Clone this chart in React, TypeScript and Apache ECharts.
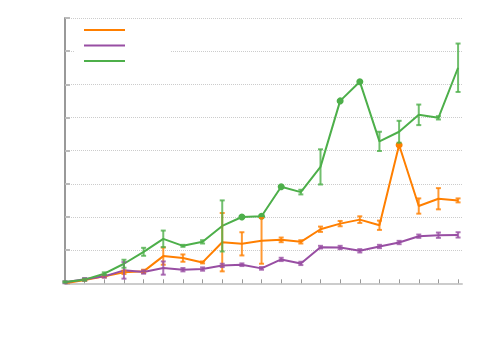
import React, { useEffect, useRef } from 'react';
import * as echarts from 'echarts';

const steps = [0, 1, 2, 3, 4, 5, 6, 7, 8, 9, 10, 11, 12, 13, 14, 15, 16, 17, 18, 19, 20];
const seriesNames = ['Series A', 'Series B', 'Series C'];
const colors = ['#ff7f00', '#984ea3', '#4daf4a'];

const orangeValues = [0.0, 0.1, 0.21, 0.33, 0.36, 0.82, 0.76, 0.63, 1.24, 1.19, 1.28, 1.31, 1.25, 1.63, 1.8, 1.92, 1.75, 4.17, 2.33, 2.55, 2.5];
const orangeErrors = [0, 0.02, 0.03, 0.05, 0.05, 0.26, 0.11, 0.03, 0.88, 0.35, 0.69, 0.07, 0.05, 0.08, 0.08, 0.1, 0.14, 0, 0.23, 0.32, 0.06];
const orangeCircles = [17];

const purpleValues = [0.03, 0.12, 0.21, 0.39, 0.34, 0.46, 0.41, 0.43, 0.54, 0.56, 0.45, 0.72, 0.6, 1.09, 1.08, 0.98, 1.11, 1.23, 1.42, 1.45, 1.46];
const purpleErrors = [0.03, 0.04, 0.04, 0.25, 0.05, 0.2, 0.05, 0.05, 0.05, 0.04, 0.04, 0.05, 0.05, 0.04, 0.05, 0.05, 0.05, 0.05, 0.05, 0.08, 0.08];
const purpleCircles: number[] = [];

const greenValues = [0.04, 0.11, 0.29, 0.59, 0.95, 1.34, 1.13, 1.25, 1.73, 2.0, 2.02, 2.91, 2.75, 3.51, 5.5, 6.08, 4.28, 4.57, 5.08, 4.99, 6.5];
const greenErrors = [0.02, 0.03, 0.04, 0.12, 0.12, 0.25, 0.03, 0.05, 0.77, 0, 0, 0, 0.07, 0.53, 0, 0, 0.29, 0.33, 0.31, 0.05, 0.73];
const greenCircles = [9, 10, 11, 14, 15];

function lineSeries(name: string, values: number[], circles: number[], color: string, z: number) {
  return {
    type: 'line',
    name,
    symbol: 'none',
    z,
    lineStyle: { width: 2, color },
    itemStyle: { color },
    data: steps.map((x, i) =>
      circles.indexOf(i) >= 0
        ? { value: [x, values[i]], symbol: 'circle', symbolSize: 7 }
        : { value: [x, values[i]] }
    ),
  };
}

function errorSeries(name: string, values: number[], errs: number[], color: string, z: number) {
  return {
    type: 'custom',
    name: name + ' error',
    z,
    encode: { x: 0, y: [1, 2] },
    data: steps.map((x, i) => [x, values[i] - errs[i], values[i] + errs[i], errs[i]]),
    renderItem: (_params: any, api: any) => {
      const err = api.value(3);
      if (!err) return { type: 'group', children: [] };
      const x = api.value(0);
      const lo = api.coord([x, api.value(1)]);
      const hi = api.coord([x, api.value(2)]);
      const w = 2.5;
      const style = { stroke: color, lineWidth: 2, opacity: 0.8 };
      return {
        type: 'group',
        children: [
          { type: 'line', shape: { x1: lo[0], y1: lo[1], x2: hi[0], y2: hi[1] }, style },
          { type: 'line', shape: { x1: lo[0] - w, y1: lo[1], x2: lo[0] + w, y2: lo[1] }, style },
          { type: 'line', shape: { x1: hi[0] - w, y1: hi[1], x2: hi[0] + w, y2: hi[1] }, style },
        ],
      };
    },
  };
}

export default function App() {
  const ref = useRef<HTMLDivElement>(null);
  useEffect(() => {
    document.body.style.margin = '0';
    if (!ref.current) return;
    const chart = echarts.init(ref.current, null, { renderer: 'svg' });
    chart.setOption({
      animation: false,
      backgroundColor: '#fff',
      grid: { left: 65, right: 38, top: 18, bottom: 66.7 },
      legend: {
        orient: 'vertical',
        left: 75,
        top: 20,
        padding: [9, 41, 13, 9],
        backgroundColor: '#fff',
        icon: 'rect',
        itemWidth: 41,
        itemHeight: 2,
        itemGap: 13.5,
        formatter: () => '',
        textStyle: { fontSize: 10, lineHeight: 10 },
        selectedMode: false,
        data: seriesNames,
        z: 10,
      },
      xAxis: {
        type: 'value',
        min: 0,
        max: 20.2,
        interval: 1,
        axisLabel: { show: false },
        axisLine: { show: true, lineStyle: { color: '#ccc', width: 2 } },
        axisTick: { show: true, inside: true, length: 4, lineStyle: { color: '#999' }, customValues: steps },
        splitLine: { show: false },
      },
      yAxis: {
        type: 'value',
        min: 0,
        max: 8,
        interval: 1,
        axisLabel: { show: false },
        axisLine: { show: true, lineStyle: { color: '#999', width: 2 } },
        axisTick: { show: true, inside: true, length: 5, lineStyle: { color: '#bbb', width: 2 } },
        splitLine: { show: true, lineStyle: { type: 'dotted', color: '#ccc', width: 1 } },
      },
      series: [
        lineSeries(seriesNames[0], orangeValues, orangeCircles, colors[0], 2),
        lineSeries(seriesNames[1], purpleValues, purpleCircles, colors[1], 2),
        lineSeries(seriesNames[2], greenValues, greenCircles, colors[2], 2),
        errorSeries(seriesNames[0], orangeValues, orangeErrors, colors[0], 3),
        errorSeries(seriesNames[1], purpleValues, purpleErrors, colors[1], 3),
        errorSeries(seriesNames[2], greenValues, greenErrors, colors[2], 3),
      ],
    });
    return () => chart.dispose();
  }, []);
  return <div ref={ref} style={{ width: 500, height: 350 }} />;
}
